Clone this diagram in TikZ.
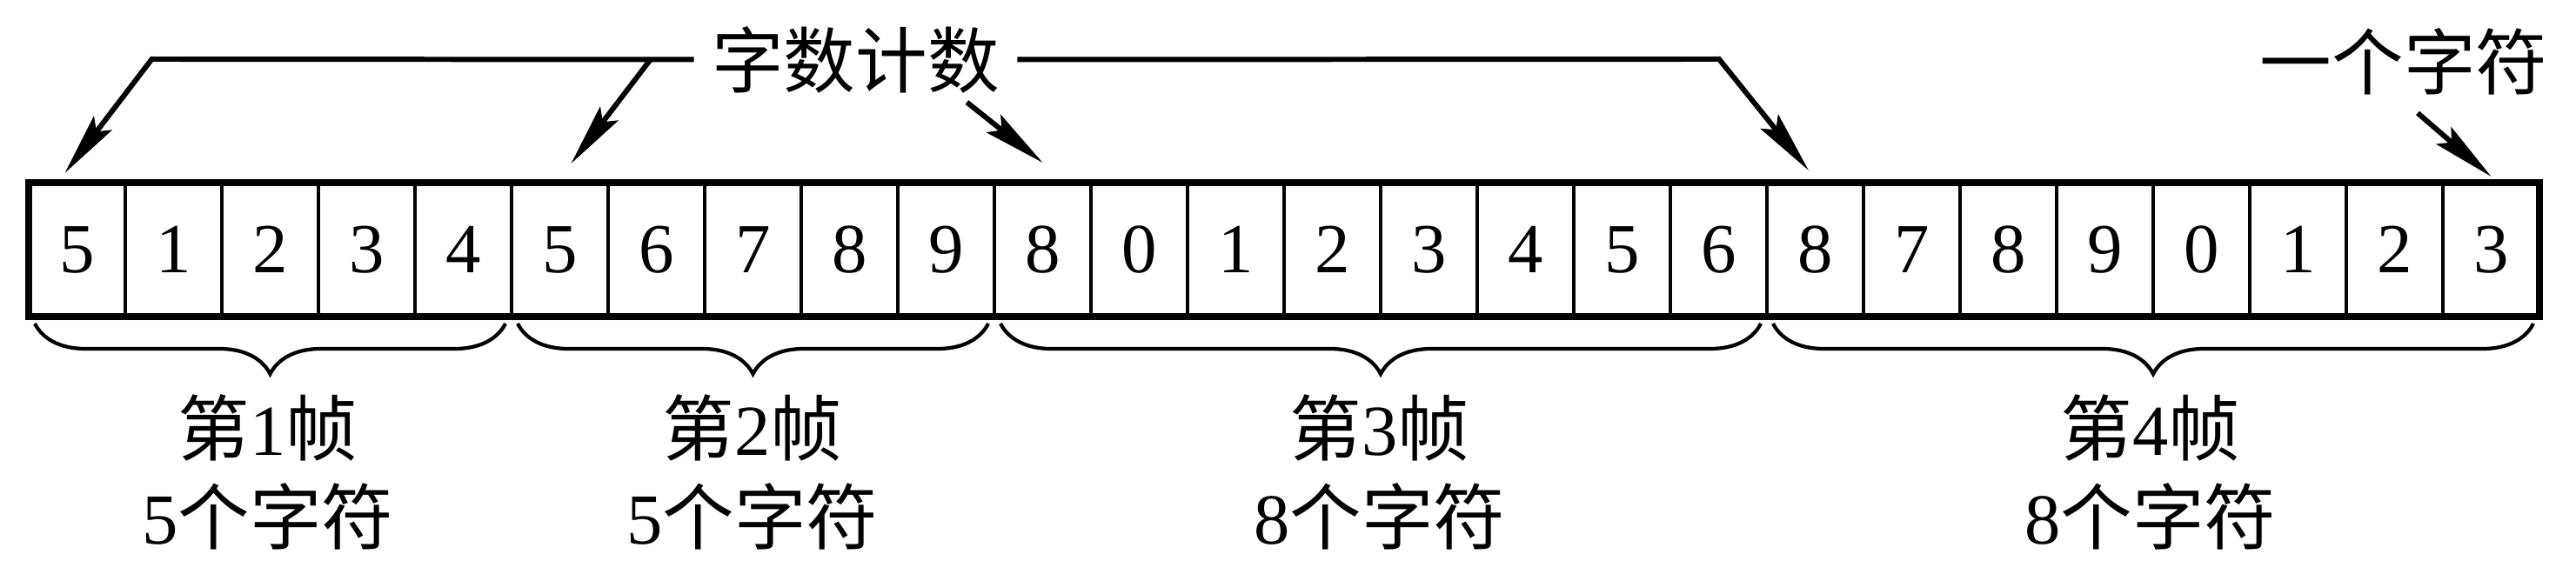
\documentclass[tikz,border=0pt]{standalone}
\usepackage{fontspec}
\setmainfont{Liberation Serif}
\newfontfamily\cjk{Noto Sans CJK SC}
\newcommand{\zh}[1]{{\cjk #1}}
\usepackage{tikz}
\usetikzlibrary{arrows.meta}
\usetikzlibrary{decorations.pathreplacing}

\begin{document}
\begin{tikzpicture}[
	cell/.style={draw, line width=1.1pt, minimum width=1.11cm, minimum height=1.54cm, inner sep=0pt, outer sep=0pt, font=\fontsize{23}{28}\selectfont},
	txt/.style={inner sep=0.2cm, font=\fontsize{23.5}{28}\selectfont},
	lab/.style={align=center, inner sep=0pt, font=\fontsize{23.5}{29}\selectfont},
	arr/.style={line width=1.7pt, -{Stealth[length=7.2mm, width=2.6mm, inset=1.2mm]}},
	brace/.style={line width=1.2pt, decorate, decoration={brace, amplitude=0.58cm}}]
	\useasboundingbox (0,0) rectangle (29.61,-6.45);

%cells
	\foreach \d [count=\i from 0] in {5,1,2,3,4,5,6,7,8,9,8,0,1,2,3,4,5,6,8,7,8,9,0,1,2,3}{
		\node[cell] (c\i) at ({0.33 + 1.11*\i + 0.555}, -2.87) {\d};
	}
	\draw[line width=2.3pt] (c0.north west) rectangle (c25.south east);

%labels
	\node[txt] (count) at (9.835, -0.685) {\zh{字数计数}};
	\node[txt] (onechar) at (27.63, -0.71) {\zh{一个字符}};

%arrows
	\coordinate (split) at (7.48, -0.68);
	\draw[arr] (count.west) -- (1.745, -0.68) -- ([xshift=-1.4mm, yshift=1.1mm]c0.north);
	\draw[arr] (split) -- ([xshift=1.3mm, yshift=2.2mm]c5.north);
	\draw[arr] ([xshift=-5.8mm, yshift=1mm]count.south east) -- ([yshift=2.3mm]c10.north);
	\draw[arr] (count.east) -- (19.76, -0.68) -- ([xshift=-0.75mm, yshift=1.4mm]c18.north);
	\draw[arr] ([xshift=1.6mm]onechar.south) -- ([yshift=0.7mm]c25.north);

%braces
	\foreach \a/\b in {0/4, 5/9, 10/17, 18/25}{
		\draw[brace] ([xshift=-0.07cm, yshift=-0.08cm]c\b.south east) -- ([xshift=0.07cm, yshift=-0.08cm]c\a.south west);
	}

%frames
	\foreach \x/\n/\k in {3.08/1/5, 8.65/2/5, 15.86/3/8, 24.72/4/8}{
		\node[lab] (f\n) at (\x, -5.43) {\zh{第}\n\zh{帧}\\\k\zh{个字符}};
	}
\end{tikzpicture}
\end{document}
